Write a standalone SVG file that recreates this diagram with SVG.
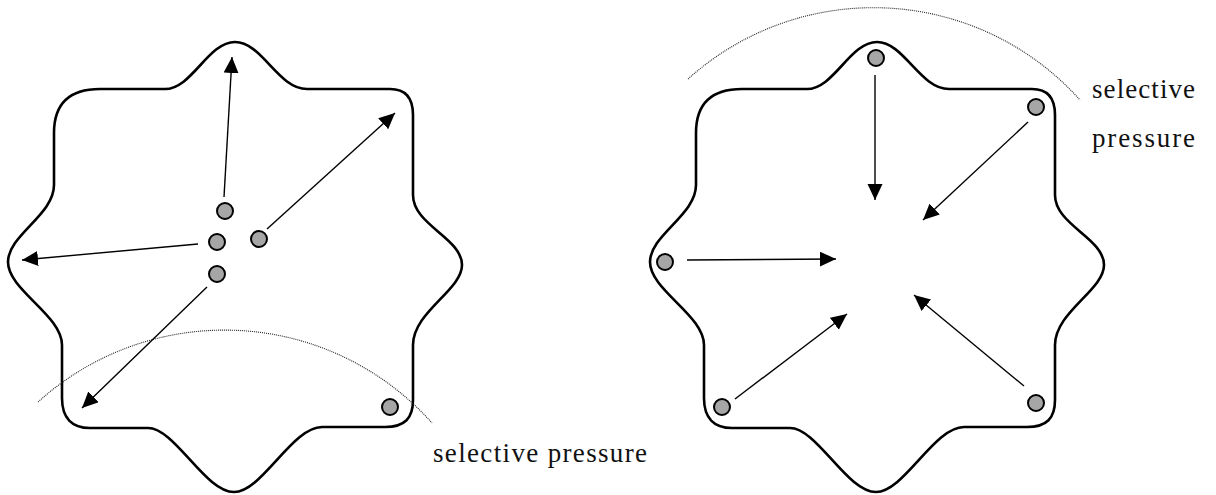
<svg xmlns="http://www.w3.org/2000/svg" xmlns:xlink="http://www.w3.org/1999/xlink" width="1216" height="495" viewBox="0 0 1216 495">
  <style>
    .blob { fill: none; stroke: #000; stroke-width: 2.6; stroke-linejoin: round; }
    .dot { fill: #a6a6a6; stroke: #000; stroke-width: 2; }
    .arrow { stroke: #000; stroke-width: 1.4; fill: none; marker-end: url(#head); }
    .arc { fill: none; stroke: #222; stroke-width: 1.1; stroke-dasharray: 1 1; }
    .label { font-family: "Liberation Serif", "Times New Roman", serif; font-size: 27px; fill: #111; }
  </style>
  <defs>
    <marker id="head" markerUnits="userSpaceOnUse" markerWidth="17" markerHeight="16" refX="16" refY="7.5" orient="auto">
      <path d="M0,0 L16,7.5 L0,15 Z" fill="#000"/>
    </marker>
    <path id="outline" d="M235,42 C262,42 278,89 307,89 L390,89 C405,89 413,97 413,115 L413,195 C413,225 462,238 462,265 C462,290 413,312 413,345 L413,400 C413,418 405,427 385,427 L322,427 C292,427 262,492 234,492 C205,492 175,428 148,428 L90,428 C72,428 62,418 62,398 L62,345 C62,315 8,290 8,262 C8,235 54,215 54,185 L54,133 C54,105 68,89 100,89 L165,89 C192,89 208,42 235,42 Z"/>
  </defs>

  <g id="left-panel">
    <use xlink:href="#outline" href="#outline" class="blob"/>
    <path class="arc" d="M38,402 A278,278 0 0 1 432,423"/>
    <text class="label" x="433" y="462" textLength="214">selective pressure</text>
  </g>

  <g id="right-panel">
    <use xlink:href="#outline" href="#outline" class="blob" transform="translate(642,0)"/>
    <path class="arc" d="M688,79 A277,277 0 0 1 1080,100"/>
    <text class="label" x="1092" y="98" textLength="103">selective</text>
    <text class="label" x="1092" y="147" textLength="103">pressure</text>
  </g>

  <g id="connectors">
    <line class="arrow" x1="224" y1="197" x2="232" y2="57"/>
    <line class="arrow" x1="267" y1="229" x2="395" y2="113"/>
    <line class="arrow" x1="198" y1="244" x2="22" y2="260"/>
    <line class="arrow" x1="207" y1="287" x2="82" y2="408"/>
    <line class="arrow" x1="875" y1="75" x2="875" y2="200"/>
    <line class="arrow" x1="1028" y1="122" x2="923" y2="220"/>
    <line class="arrow" x1="687" y1="260" x2="836" y2="259"/>
    <line class="arrow" x1="735" y1="399" x2="847" y2="314"/>
    <line class="arrow" x1="1024" y1="386" x2="914" y2="295"/>
  </g>

  <g id="left-dots">
    <circle id="l1" class="dot" cx="225" cy="211" r="8"/>
    <circle id="l2" class="dot" cx="217" cy="242" r="8"/>
    <circle id="l3" class="dot" cx="259" cy="239" r="8"/>
    <circle id="l4" class="dot" cx="217" cy="274" r="8"/>
    <circle id="l5" class="dot" cx="390" cy="407" r="8"/>
  </g>

  <g id="right-dots">
    <circle id="r1" class="dot" cx="876" cy="58" r="8"/>
    <circle id="r2" class="dot" cx="1036" cy="107" r="8"/>
    <circle id="r3" class="dot" cx="665" cy="262" r="8"/>
    <circle id="r4" class="dot" cx="722" cy="407" r="8"/>
    <circle id="r5" class="dot" cx="1036" cy="403" r="8"/>
  </g>
</svg>
